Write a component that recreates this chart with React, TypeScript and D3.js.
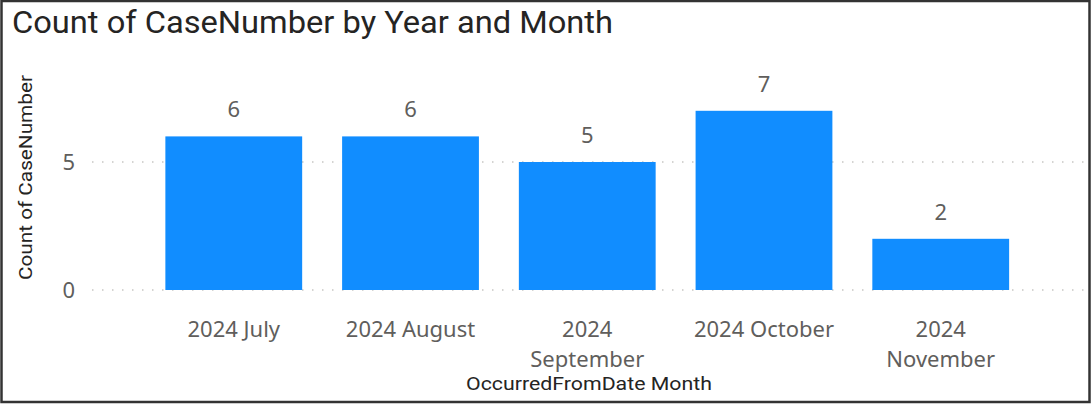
import { useEffect, useRef } from "react";
import * as d3 from "d3";

const months = ["2024 July", "2024 August", "2024 September", "2024 October", "2024 November"];
const counts = [6, 6, 5, 7, 2];
const yTicks = [0, 5];

// labels that wrap onto two lines in the original
const monthLines: string[][] = [
  ["2024 July"],
  ["2024 August"],
  ["2024", "September"],
  ["2024 October"],
  ["2024", "November"],
];

const W = 1092;
const H = 404;
const BAR = "#118DFF";
const GREY = "#605E5C";
const DIN = "'Roboto', 'DejaVu Sans Condensed', sans-serif";
const SEGOE = "'Noto Sans', 'Open Sans', sans-serif";

export default function App() {
  const ref = useRef<SVGSVGElement>(null);

  useEffect(() => {
    if (!ref.current) return;
    const svg = d3.select(ref.current);
    svg.selectAll("*").remove();

    svg.append("rect").attr("width", W).attr("height", H).attr("fill", "#fff");

    const x = d3.scaleBand<string>()
      .domain(months)
      .range([145.4, 1029.1])
      .paddingInner(0.226)
      .paddingOuter(0.113);

    const y = d3.scaleLinear().domain([0, 5]).range([290, 162]);

    // gridlines
    svg.append("g")
      .selectAll("line")
      .data(yTicks)
      .join("line")
      .attr("x1", 92)
      .attr("x2", 1084)
      .attr("y1", (d) => y(d))
      .attr("y2", (d) => y(d))
      .attr("stroke", "#C8C6C4")
      .attr("stroke-width", 1.5)
      .attr("stroke-dasharray", "1.5,8.5");

    // y tick labels
    svg.append("g")
      .selectAll("text")
      .data(yTicks)
      .join("text")
      .attr("x", 75)
      .attr("y", (d) => y(d))
      .attr("dy", "0.35em")
      .attr("text-anchor", "end")
      .attr("fill", GREY)
      .attr("font-family", SEGOE)
      .attr("font-size", 22)
      .text((d) => d);

    // bars
    svg.append("g")
      .selectAll("rect")
      .data(counts)
      .join("rect")
      .attr("x", (_d, i) => x(months[i])!)
      .attr("width", x.bandwidth())
      .attr("y", (d) => y(d))
      .attr("height", (d) => y(0) - y(d))
      .attr("fill", BAR);

    // data labels
    svg.append("g")
      .selectAll("text")
      .data(counts)
      .join("text")
      .attr("x", (_d, i) => x(months[i])! + x.bandwidth() / 2)
      .attr("y", (d) => y(d) - 19)
      .attr("text-anchor", "middle")
      .attr("fill", GREY)
      .attr("font-family", SEGOE)
      .attr("font-size", 22)
      .text((d) => d);

    // x tick labels
    const xl = svg.append("g")
      .selectAll("text")
      .data(monthLines)
      .join("text")
      .attr("x", (_d, i) => x(months[i])! + x.bandwidth() / 2)
      .attr("y", 337)
      .attr("text-anchor", "middle")
      .attr("fill", GREY)
      .attr("font-family", SEGOE)
      .attr("font-size", 22);
    xl.selectAll("tspan")
      .data((d) => d)
      .join("tspan")
      .attr("x", function () {
        return (this.parentNode as SVGTextElement).getAttribute("x");
      })
      .attr("dy", (_d, i) => (i === 0 ? 0 : 30))
      .text((d) => d);

    // axis titles
    svg.append("text")
      .attr("x", 589)
      .attr("y", 390)
      .attr("text-anchor", "middle")
      .attr("fill", "#252423")
      .attr("font-family", DIN)
      .attr("font-size", 18)
      .attr("textLength", 246)
      .attr("lengthAdjust", "spacingAndGlyphs")
      .text("OccurredFromDate Month");

    svg.append("text")
      .attr("transform", "translate(32,177.5) rotate(-90)")
      .attr("text-anchor", "middle")
      .attr("fill", "#252423")
      .attr("font-family", DIN)
      .attr("font-size", 19)
      .attr("textLength", 205)
      .attr("lengthAdjust", "spacingAndGlyphs")
      .text("Count of CaseNumber");

    // title
    svg.append("text")
      .attr("x", 12)
      .attr("y", 33)
      .attr("fill", "#252423")
      .attr("font-family", DIN)
      .attr("font-size", 31)
      .attr("textLength", 601)
      .attr("lengthAdjust", "spacingAndGlyphs")
      .text("Count of CaseNumber by Year and Month");

    // frame
    svg.append("rect")
      .attr("x", 1.5)
      .attr("y", 1)
      .attr("width", W - 4)
      .attr("height", H - 3)
      .attr("fill", "none")
      .attr("stroke", "#333")
      .attr("stroke-width", 2.5);
  }, []);

  return (
    <div style={{ position: "fixed", left: 0, top: 0 }}>
      <svg ref={ref} width={W} height={H} style={{ display: "block" }} />
    </div>
  );
}
